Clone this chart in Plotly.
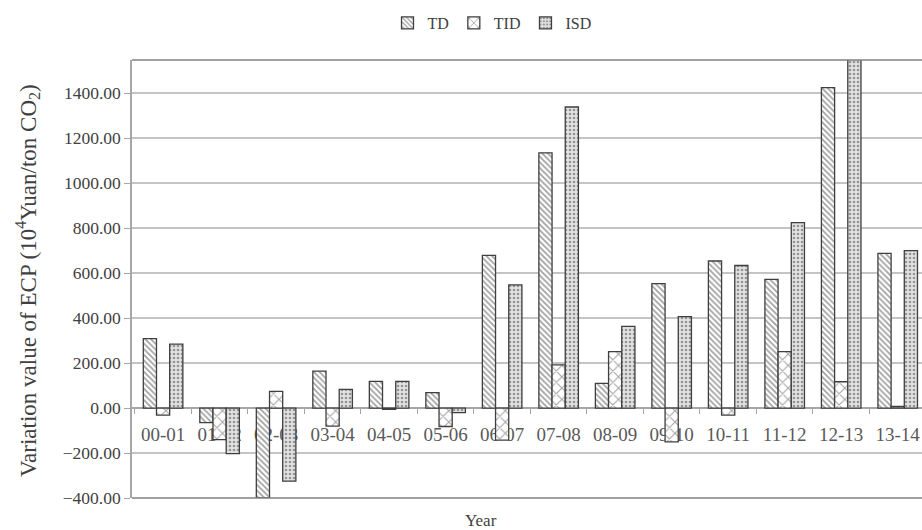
import plotly.graph_objects as go

categories = ["00-01", "01-02", "02-03", "03-04", "04-05", "05-06", "06-07",
              "07-08", "08-09", "09-10", "10-11", "11-12", "12-13", "13-14"]
TD = [309, -65, -400, 164, 119, 69, 679, 1135, 110, 553, 654, 572, 1425, 688]
TID = [-31, -140, 74, -80, -6, -82, -143, 192, 251, -150, -31, 251, 117, 7]
ISD = [284, -203, -325, 83, 119, -20, 548, 1339, 363, 407, 634, 825, 1560, 700]
y_ticks = [-400, -200, 0, 200, 400, 600, 800, 1000, 1200, 1400]
y_min, y_max = -400, 1548

FONT = "Liberation Serif, Times New Roman, serif"
LINE = "#3f3f3f"

series = [
    ("TD", TD, "white", "\\", 4, 0.45),
    ("TID", TID, "white", "x", 8, 0.24),
    ("ISD", ISD, "#e2e2e2", ".", 4, 0.35),
]

fig = go.Figure()
for name, vals, bg, shape, size, sol in series:
    fig.add_trace(go.Bar(
        x=categories, y=vals, name=name,
        marker=dict(color=bg, line=dict(color=LINE, width=1.3),
                    pattern=dict(shape=shape, fgcolor="#454545", bgcolor=bg,
                                 size=size, solidity=sol, fillmode="overlay")),
    ))

zero_pos = (0 - y_min) / (y_max - y_min)

W, H = 922, 530
L, T, B = 132, 60, 32
PW = W - L
PH = H - T - B

fig.update_layout(
    width=W, height=H,
    margin=dict(l=L, r=0, t=T, b=B, autoexpand=False),
    paper_bgcolor="white", plot_bgcolor="white",
    barmode="group", bargap=0.3, bargroupgap=0,
    font=dict(family=FONT, color="#404040"),
    legend=dict(orientation="h", x=492 / W, xanchor="center", xref="container",
                y=1 - 23 / H, yanchor="middle", yref="container",
                font=dict(size=16, family=FONT, color="#404040"),
                itemwidth=30, tracegroupgap=0),
    xaxis=dict(type="category", range=[-0.55, 13.43], anchor="free", position=zero_pos,
               automargin=False,
               showline=True, linecolor="#a6a6a6", linewidth=1.5,
               ticks="outside", tickson="boundaries", ticklen=5, tickcolor="#a6a6a6",
               tickfont=dict(size=19, family=FONT, color="#595959"),
               ticklabelstandoff=9, showgrid=False, layer="below traces"),
    yaxis=dict(range=[y_min, y_max], tickvals=y_ticks, tickformat=".2f",
               automargin=False,
               showline=True, linecolor="#a6a6a6", linewidth=1.5,
               ticks="outside", ticklen=6, tickcolor="#a6a6a6",
               showgrid=True, gridcolor="#c4c4c4", gridwidth=1.5, zeroline=False,
               tickfont=dict(size=17.5, family=FONT, color="#404040")),
    shapes=[
        dict(type="line", xref="paper", yref="paper", x0=0, x1=1, y0=1, y1=1,
             line=dict(color="#808080", width=1.5)),
        dict(type="line", xref="paper", yref="paper", x0=0, x1=1, y0=0, y1=0,
             line=dict(color="#808080", width=1.5)),
    ],
    annotations=[
        dict(text="Year", xref="paper", yref="paper", x=(481 - L) / PW, y=-22 / PH,
             xanchor="center", yanchor="middle", showarrow=False,
             font=dict(size=17, family=FONT, color="#404040")),
        dict(text="Variation value of ECP (10<sup>4</sup>Yuan/ton CO<sub>2</sub>)",
             xref="paper", yref="paper", x=(27 - L) / PW, y=(498 - 281) / PH, textangle=-90,
             xanchor="center", yanchor="middle", showarrow=False,
             font=dict(size=23, family=FONT, color="#404040")),
    ],
)

fig.write_html(
    "out.html",
    config={"displayModeBar": False},
    post_script="document.body.style.margin='0';document.body.style.overflow='hidden';",
)
